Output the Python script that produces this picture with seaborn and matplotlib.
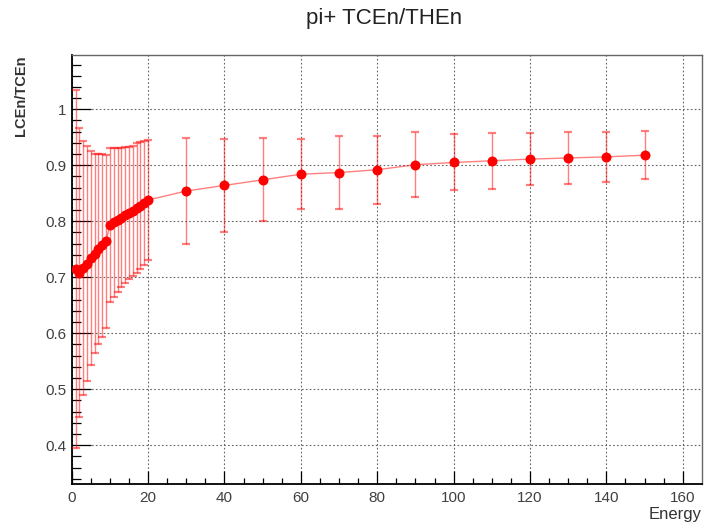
import matplotlib
matplotlib.use("Agg")
import matplotlib.pyplot as plt
from matplotlib.ticker import MultipleLocator, FixedLocator
import seaborn as sns
import pandas as pd

# Beam energies and the measured LCEn/TCEn ratio with symmetric uncertainties
energy = [1, 2, 3, 4, 5, 6, 7, 8, 9, 10,
          11, 12, 13, 14, 15, 16, 17, 18, 19, 20,
          30, 40, 50, 60, 70, 80, 90, 100, 110, 120, 130, 140, 150]
ratio = [0.714, 0.708, 0.717, 0.724, 0.734, 0.742, 0.750, 0.757, 0.764, 0.793,
         0.798, 0.802, 0.806, 0.811, 0.815, 0.819, 0.823, 0.828, 0.833, 0.838,
         0.854, 0.864, 0.874, 0.884, 0.887, 0.892, 0.901, 0.905, 0.908, 0.911,
         0.913, 0.915, 0.918]
ratio_err = [0.320, 0.258, 0.227, 0.210, 0.191, 0.178, 0.170, 0.164, 0.155, 0.138,
             0.133, 0.128, 0.124, 0.121, 0.118, 0.116, 0.116, 0.114, 0.111, 0.107,
             0.094, 0.083, 0.074, 0.063, 0.065, 0.061, 0.058, 0.050, 0.050, 0.047,
             0.047, 0.045, 0.043]

x_major_ticks = [0, 20, 40, 60, 80, 100, 120, 140, 160]
y_major_ticks = [0.4, 0.5, 0.6, 0.7, 0.8, 0.9, 1.0]
y_tick_labels = ["0.4", "0.5", "0.6", "0.7", "0.8", "0.9", "1"]

df = pd.DataFrame({"Energy": energy, "ratio": ratio, "err": ratio_err})

sns.set_style("white")
plt.rcParams["font.family"] = ["Liberation Sans", "DejaVu Sans"]

fig = plt.figure(figsize=(7.06, 5.24), dpi=100)
ax = fig.add_axes([71.7 / 706, 1 - 484.3 / 524, 629.8 / 706, (484.3 - 55) / 524])

red = "#ff0000"

# error bars with end caps
ax.errorbar(df["Energy"], df["ratio"], yerr=df["err"], fmt="none",
            ecolor=(1, 0, 0, 0.5), elinewidth=1.0, capsize=2.6, capthick=1.6,
            zorder=3)
# connecting line and filled markers
sns.lineplot(data=df, x="Energy", y="ratio", ax=ax, color=red, alpha=0.5,
             linewidth=1.0, zorder=4, estimator=None, sort=False)
sns.scatterplot(data=df, x="Energy", y="ratio", ax=ax, color=red, s=52,
                linewidth=0, zorder=5)

ax.set_xlim(0, 164.9)
ax.set_ylim(0.33, 1.097)

ax.xaxis.set_major_locator(FixedLocator(x_major_ticks))
ax.xaxis.set_minor_locator(MultipleLocator(5))
ax.yaxis.set_major_locator(FixedLocator(y_major_ticks))
ax.yaxis.set_minor_locator(MultipleLocator(0.02))
ax.set_yticklabels(y_tick_labels)

label_color = "#404040"
ax.tick_params(axis="x", which="major", direction="in", length=9.3, width=0.9,
               color="black", labelsize=11, labelcolor=label_color, pad=5,
               top=False, bottom=True)
ax.tick_params(axis="x", which="minor", direction="in", length=4.6, width=0.9,
               color="black", top=False, bottom=True)
ax.tick_params(axis="y", which="major", direction="in", length=13.6, width=0.9,
               color="black", labelsize=11, labelcolor=label_color, pad=4,
               left=True, right=False)
ax.tick_params(axis="y", which="minor", direction="in", length=6.8, width=0.9,
               color="black", left=True, right=False)

ax.grid(True, which="major", color="#666666", linestyle=(0, (1.5, 2)),
        linewidth=0.8)
ax.set_axisbelow(True)

for side in ["left", "bottom"]:
    ax.spines[side].set_color("black")
    ax.spines[side].set_linewidth(1.3)
for side in ["top", "right"]:
    ax.spines[side].set_color("#666666")
    ax.spines[side].set_linewidth(1.0)

ax.set_xlabel("Energy", fontsize=12, color="#333333")
ax.xaxis.set_label_coords(1.0, -(519 - 484.3) / (484.3 - 55))
ax.xaxis.label.set_ha("right")
ax.xaxis.label.set_va("baseline")

ax.set_ylabel("LCEn/TCEn", fontsize=10.5, fontweight="bold", color="#333333",
              loc="top")
ax.yaxis.set_label_coords(-(71.7 - 28.5) / 629.8, 1.0)

fig.text(384 / 706, 1 - 24 / 524, "pi+ TCEn/THEn", ha="center", va="baseline",
         fontsize=16, color="#222222")

fig.savefig("out.png", dpi=100, facecolor="white")
